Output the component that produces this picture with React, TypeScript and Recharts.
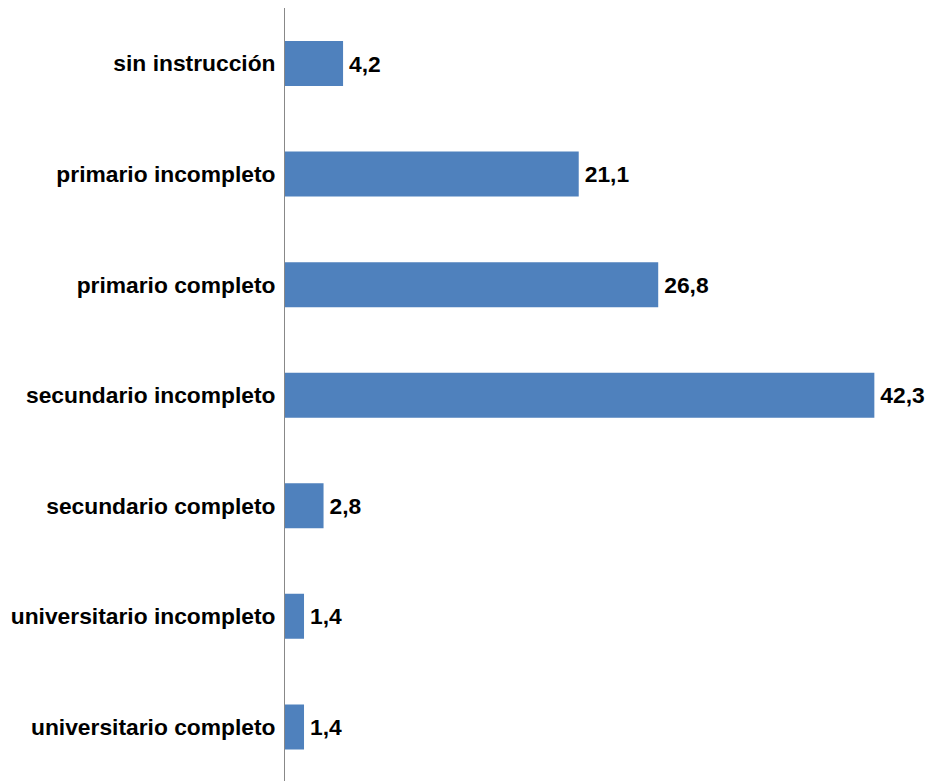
import { BarChart, Bar, XAxis, YAxis, LabelList } from "recharts";

const categories = [
  "sin instrucción",
  "primario incompleto",
  "primario completo",
  "secundario incompleto",
  "secundario completo",
  "universitario incompleto",
  "universitario completo",
];
const values = [4.2, 21.1, 26.8, 42.3, 2.8, 1.4, 1.4];

const data = categories.map((name, i) => ({ name, value: values[i] }));

const FONT = '"Liberation Sans", Arial, sans-serif';

export default function App() {
  return (
    <div style={{ position: "absolute", left: 0, top: 0, width: 930, height: 781, background: "#fff" }}>
      <BarChart
        width={930}
        height={781}
        data={data}
        layout="vertical"
        margin={{ top: 8, right: 18, bottom: -1, left: 0 }}
        barCategoryGap={0}
      >
        <XAxis type="number" domain={[0, 45]} hide />
        <YAxis
          type="category"
          dataKey="name"
          width={284.5}
          tickLine={false}
          tickMargin={3}
          axisLine={{ stroke: "#888", strokeWidth: 1 }}
          tick={{ fill: "#000", fontSize: 22.8, fontWeight: "bold", fontFamily: FONT }}
          interval={0}
        />
        <Bar dataKey="value" fill="#4F81BD" barSize={45} isAnimationActive={false}>
          <LabelList
            dataKey="value"
            position="right"
            offset={6}
            formatter={(v: any) => Number(v).toFixed(1).replace(".", ",")}
            style={{ fill: "#000", fontSize: 22.8, fontWeight: "bold", fontFamily: FONT }}
          />
        </Bar>
      </BarChart>
    </div>
  );
}
